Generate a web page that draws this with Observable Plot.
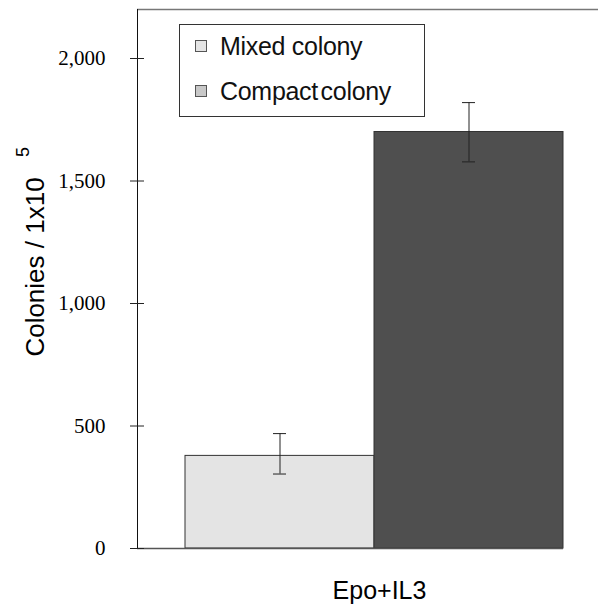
<!DOCTYPE html>
<html>
<head>
<meta charset="utf-8">
<script src="https://cdn.jsdelivr.net/npm/d3@7"></script>
<script src="https://cdn.jsdelivr.net/npm/@observablehq/plot@0.6"></script>
<style>
  html, body { margin: 0; padding: 0; background: white; }
  #wrap { position: relative; width: 598px; height: 606px; }
  #legend { position: absolute; left: 179px; top: 24px; width: 244px; height: 91px;
    border: 1px solid #333; background: white; font-family: "Liberation Sans", Arial, sans-serif; font-size: 25px; color: #111; }
  .row { position: absolute; left: 15px; height: 30px; display: flex; align-items: center; white-space: nowrap; }
  .sw { width: 10px; height: 10px; border: 1px solid #555; margin-right: 13px; }
  .lab { letter-spacing: -0.3px; }
</style>
</head>
<body>
<div id="wrap"></div>
<script>
const series = ["Mixed colony", "Compact colony"];
const values = [378, 1700];
const errLow = [304, 1578];
const errHigh = [469, 1820];
const category = "Epo+IL3";
const yTicks = [0, 500, 1000, 1500, 2000];
const yLabel = "Colonies / 1x10";
const yLabelSup = "5";
const barColors = ["#e4e4e4", "#4f4f4f"];
const legendColors = ["#e4e4e4", "#c8c8c8"];

const data = series.map((s, i) => ({series: s, value: values[i], lo: errLow[i], hi: errHigh[i]}));
const sans = "'Liberation Sans', Arial, sans-serif";

const chart = Plot.plot({
  width: 598, height: 606,
  marginTop: 9, marginBottom: 58, marginLeft: 137, marginRight: 35,
  style: {background: "white", fontFamily: "'Liberation Serif', 'Times New Roman', serif", fontSize: "21px", color: "black"},
  x: {type: "band", domain: series, range: [184, 563], padding: 0, axis: null},
  y: {domain: [0, 2200], axis: null},
  color: {domain: series, range: barColors},
  marks: [
    Plot.ruleY([2200], {stroke: "#777", strokeWidth: 1.5, insetRight: -35}),
    Plot.barY(data, {x: "series", y: "value", fill: "series", stroke: "#333", strokeWidth: 1}),
    Plot.ruleX(data, {x: "series", y1: "lo", y2: "hi", stroke: "#222", strokeWidth: 1}),
    Plot.tickY(data, {x: "series", y: "lo", stroke: "#222", insetLeft: 88, insetRight: 88}),
    Plot.tickY(data, {x: "series", y: "hi", stroke: "#222", insetLeft: 88, insetRight: 88}),
    Plot.ruleY([0], {stroke: "#555", strokeWidth: 1.5}),
    Plot.frame({anchor: "left", stroke: "#111"}),
    Plot.axisY(yTicks, {tickSize: 14, dx: 7, tickPadding: 25, tickFormat: d3.format(","), label: null,
      fontSize: 21, stroke: "#222", fill: "black", letterSpacing: "-1.5px"}),
    Plot.text([yLabel], {frameAnchor: "left", rotate: -90, textAnchor: "middle", lineAnchor: "bottom",
      dx: -94, dy: -12, fontSize: 26, fontFamily: sans, fill: "black"}),
    Plot.text([yLabelSup], {frameAnchor: "left", rotate: -90, textAnchor: "middle", lineAnchor: "bottom",
      dx: -109, dy: -127, fontSize: 18, fontFamily: sans, fill: "black"}),
    Plot.text([category], {frameAnchor: "bottom", textAnchor: "middle", lineAnchor: "bottom",
      dx: 29, dy: 50, fontSize: 25, fontFamily: sans, fill: "black"})
  ]
});

const wrap = document.getElementById("wrap");
wrap.appendChild(chart);
const legend = document.createElement("div");
legend.id = "legend";
series.forEach((s, i) => {
  const row = document.createElement("div");
  row.className = "row";
  row.style.top = (i === 0 ? 6 : 51) + "px";
  const sw = document.createElement("div");
  sw.className = "sw";
  sw.style.background = legendColors[i];
  const lab = document.createElement("span");
  lab.className = "lab";
  if (i === 1) lab.style.wordSpacing = "-4px";
  lab.textContent = s;
  row.appendChild(sw);
  row.appendChild(lab);
  legend.appendChild(row);
});
wrap.appendChild(legend);
</script>
</body>
</html>
